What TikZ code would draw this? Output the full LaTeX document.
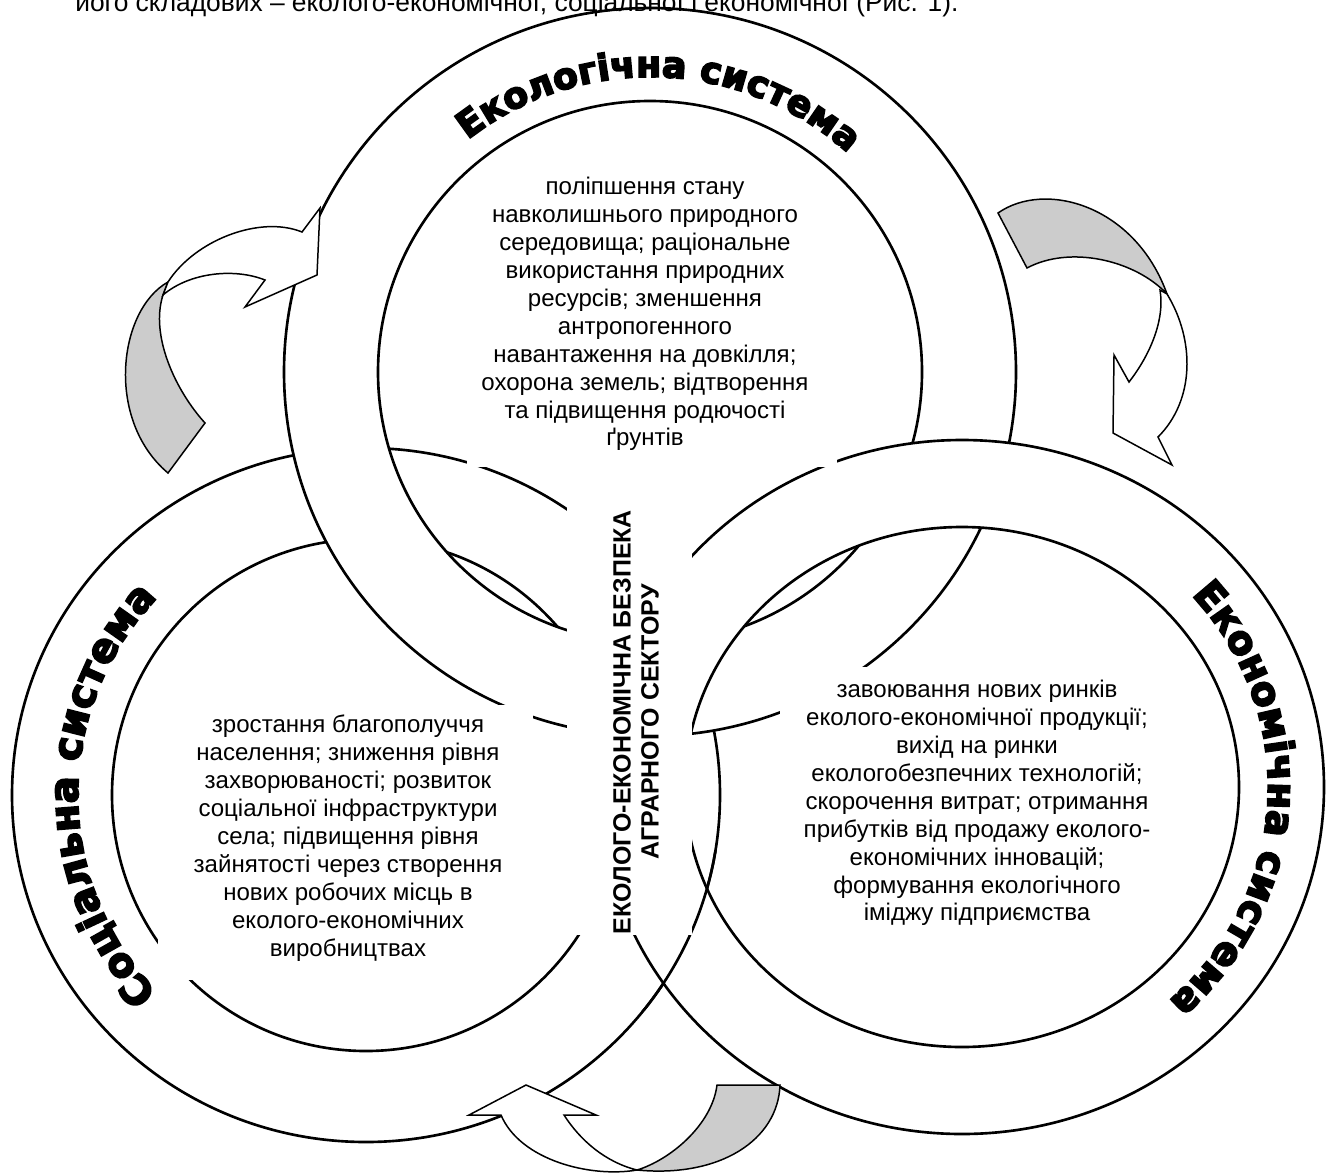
\documentclass[tikz,border=0pt]{standalone}
\usepackage{fontspec}
\setmainfont{Liberation Sans}
\newfontfamily\heavyfont{DejaVu Sans Bold}[FakeBold=4.5]
\usetikzlibrary{decorations.text}

\begin{document}
\begin{tikzpicture}
  [x=0.02cm,y=-0.02cm,
   ringline/.style={line width=1.5pt},
   arrowline/.style={line width=0.85pt,line join=miter},
   backside/.style={arrowline,fill=black!20},
   frontside/.style={arrowline,fill=white},
   mask/.style={fill=white,draw=none},
   body/.style={align=center,inner sep=0pt,font=\fontsize{13.7}{15.9}\selectfont}]

  \useasboundingbox (0,0) rectangle (1328,1173);
  \clip (0,0) rectangle (1328,1173);

  % social ring
  \path[fill=white,even odd rule] (366,795) ellipse[x radius=354,y radius=347] (366,795) ellipse[x radius=254,y radius=256];
  \draw[ringline] (366,795) ellipse[x radius=354,y radius=347];
  \draw[ringline] (366,795) ellipse[x radius=254,y radius=256];

  % ecological ring
  \path[fill=white,even odd rule] (650,372) ellipse[x radius=366,y radius=364] (650,372) ellipse[x radius=272,y radius=271];
  \draw[ringline] (650,372) ellipse[x radius=366,y radius=364];
  \draw[ringline] (650,372) ellipse[x radius=272,y radius=271];

  % economic ring
  \path[fill=white,even odd rule] (962,787) ellipse[x radius=362,y radius=347] (962,787) ellipse[x radius=277,y radius=260];
  \draw[ringline] (962,787) ellipse[x radius=362,y radius=347];
  \draw[ringline] (962,787) ellipse[x radius=277,y radius=260];

  % social ring lies over the economic one at the bottom
  \begin{scope}
    \clip (640,850) rectangle (740,1010);
    \draw[ringline] (366,795) ellipse[x radius=354,y radius=347];
  \end{scope}

  % white text boxes
  \path[mask] (567,505) rectangle (692,935);
  \path[mask] (467,178) rectangle (837,467);
  \path[mask] (158,705) rectangle (533,980);
  \path[mask] (780,667) rectangle (1175,945);

  % social -> ecological
  \draw[backside] (168,473) -- (205,423) .. controls (175,390) and (150,335) .. (163,295) -- (168,282) .. controls (118,310) and (105,420) .. (168,473) -- cycle;
  \draw[frontside] (168,282) .. controls (195,240) and (260,215) .. (302,232) -- (320,208) -- (317,275) -- (245,307) -- (265,280) .. controls (235,268) and (190,272) .. (163,295) -- cycle;

  % ecological -> economic
  \draw[backside] (998,213) .. controls (1045,180) and (1135,205) .. (1167,294) .. controls (1135,260) and (1070,245) .. (1027,268) -- cycle;
  \draw[frontside] (1167,294) .. controls (1195,340) and (1195,400) .. (1158,437) -- (1172,465) -- (1113,433) -- (1114,355) -- (1129,382) .. controls (1150,355) and (1165,320) .. (1160,290) -- cycle;

  % economic -> social
  \draw[backside] (717,1085) -- (780,1085) .. controls (778,1140) and (720,1178) .. (637,1170) .. controls (670,1160) and (712,1125) .. (717,1085) -- cycle;
  \draw[frontside] (526,1085) -- (596,1115) -- (564,1115) .. controls (580,1140) and (605,1162) .. (637,1170) .. controls (590,1178) and (520,1160) .. (501,1115) -- (469,1115) -- cycle;

  \node[anchor=base west,inner sep=0pt,font=\fontsize{15}{17}\selectfont] (caption) at (75,11) {його складових – еколого-економічної, соціальної і економічної (Рис. 1).};

  \node[body] (ecotext) at (645,314) {поліпшення стану\\навколишнього природного\\середовища; раціональне\\використання природних\\ресурсів; зменшення\\антропогенного\\навантаження на довкілля;\\охорона земель; відтворення\\та підвищення родючості\\ґрунтів};

  \node[body] (soctext) at (348,838) {зростання благополуччя\\населення; зниження рівня\\захворюваності; розвиток\\соціальної інфраструктури\\села; підвищення рівня\\зайнятості через створення\\нових робочих місць в\\еколого-економічних\\виробництвах};

  \node[body] (econtext) at (977,803) {завоювання нових ринків\\еколого-економічної продукції;\\вихід на ринки\\екологобезпечних технологій;\\скорочення витрат; отримання\\прибутків від продажу еколого-\\економічних інновацій;\\формування екологічного\\іміджу підприємства};

  \node[rotate=90,align=center,inner sep=0pt,font=\bfseries\fontsize{14.2}{15.9}\selectfont] (core) at (636,722) {ЕКОЛОГО-ЕКОНОМІЧНА БЕЗПЕКА\\АГРАРНОГО СЕКТОРУ};

  % curved titles
  \path[decorate,decoration={text along path,text align=center,
    text={|\heavyfont\fontsize{20.7}{20.7}\selectfont|Екологічна система}}]
    (650,372) ++(-148:295) arc[start angle=-148,end angle=-28,radius=295];
  \path[decorate,decoration={text along path,text align=center,
    text={|\heavyfont\fontsize{22.8}{22.8}\selectfont|Соціальна система}}]
    (366,795) ++(110:288 and 286) arc[start angle=110,end angle=250,x radius=288,y radius=286];
  \path[decorate,decoration={text along path,text align=center,
    text={|\heavyfont\fontsize{22.3}{22.3}\selectfont|Економічна система}}]
    (962,787) ++(-67:306 and 290) arc[start angle=-67,end angle=73,x radius=306,y radius=290];
\end{tikzpicture}
\end{document}
